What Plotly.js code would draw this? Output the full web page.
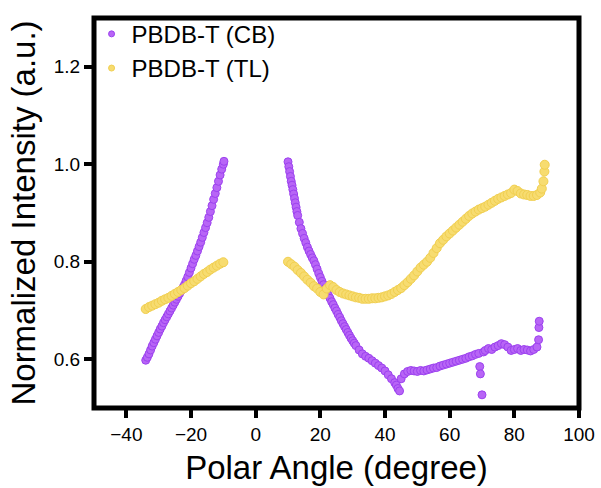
<!DOCTYPE html>
<html>
<head>
<meta charset="utf-8">
<script src="https://cdn.plot.ly/plotly-3.0.1.min.js"></script>
<style>html,body{margin:0;padding:0;background:#fff;}#chart{width:601px;height:488px;}</style>
</head>
<body>
<div id="chart"></div>
<script>
// PBDB-T (CB) — polar angle (degree) and normalized intensity (a.u.)
const cbAngle = [
  -34,-33.5,-33,-32.5,-32,-31.5,-31,-30.5,-30,-29.5,-29,-28.5,-28,-27.5,-27,-26.5,-26,-25.5,-25,-24.5,
  -24,-23.5,-23,-22.5,-22,-21.5,-21,-20.5,-20,-19.5,-19,-18.5,-18,-17.5,-17,-16.5,-16,-15.5,-15,-14.5,
  -14,-13.5,-13,-12.5,-12,-11.5,-11,-10.5,-10,-9.8,
  10,10.25,10.5,10.75,11,11.25,11.5,11.75,12,12.25,12.5,12.75,13,13.5,14,14.5,15,15.5,16,16.5,
  17,17.5,18,18.5,19,19.5,20,20.5,21,21.5,22,22.5,23,23.5,24,24.5,25,25.5,26,26.5,
  27,27.5,28,28.5,29,29.5,30,30.5,31,32,33,34,35,36,37,38,39,40,41,42,
  43,43.5,44,44.5,45,46,47,48,49,50,51,52,53,54,55,56,57,58,59,60,
  61,62,63,64,65,66,67,68,69,69.3,69.5,70,70.5,71,72,73,74,75,76,77,
  78,79,80,81,82,83,84,85,86,87,87.5,87.6,87.7
];
const cbIntensity = [
  0.598,0.604,0.611,0.619,0.627,0.634,0.641,0.648,0.655,0.662,0.668,0.675,0.681,0.687,0.693,0.699,0.705,0.711,0.717,0.723,
  0.729,0.735,0.741,0.747,0.753,0.761,0.769,0.778,0.787,0.796,0.805,0.813,0.822,0.831,0.840,0.850,0.860,0.870,0.880,0.891,
  0.903,0.915,0.928,0.940,0.952,0.965,0.978,0.990,1.000,1.006,
  1.005,0.995,0.985,0.975,0.965,0.957,0.948,0.939,0.930,0.921,0.912,0.903,0.895,0.881,0.868,0.858,0.848,0.839,0.830,0.822,
  0.815,0.808,0.802,0.794,0.785,0.776,0.768,0.760,0.753,0.745,0.738,0.731,0.725,0.718,0.712,0.705,0.699,0.692,0.686,0.679,
  0.673,0.667,0.661,0.655,0.649,0.643,0.638,0.633,0.628,0.619,0.611,0.606,0.602,0.597,0.592,0.587,0.582,0.576,0.568,0.560,
  0.552,0.547,0.540,0.535,0.560,0.570,0.575,0.577,0.576,0.575,0.577,0.576,0.578,0.580,0.582,0.583,0.586,0.588,0.590,0.592,
  0.594,0.596,0.598,0.600,0.602,0.605,0.607,0.610,0.612,0.585,0.570,0.527,0.615,0.618,0.622,0.620,0.625,0.628,0.632,0.630,
  0.625,0.618,0.620,0.622,0.618,0.620,0.619,0.617,0.620,0.625,0.640,0.665,0.678
];

// PBDB-T (TL)
const tlAngle = [
  -34,-33,-32,-31,-30,-29,-28,-27,-26,-25,-24,-23,-22,-21,-20,-19,-18,-17,-16,-15,
  -14,-13,-12,-11,-10,
  10,11,12,13,14,15,16,17,18,19,20,21,22,23,24,25,26,27,28,29,
  30,31,32,33,34,35,36,37,38,39,40,41,42,43,44,45,46,47,48,49,
  50,51,52,53,54,55,56,57,58,59,60,61,62,63,64,65,66,67,68,69,
  70,71,72,73,74,75,76,77,78,79,80,81,82,83,84,85,86,87,88,88.5,
  89,89.3,89.4
];
const tlIntensity = [
  0.703,0.707,0.710,0.713,0.716,0.720,0.723,0.726,0.730,0.734,0.738,0.742,0.746,0.751,0.756,0.760,0.765,0.770,0.775,0.779,
  0.784,0.788,0.792,0.796,0.799,
  0.800,0.795,0.790,0.783,0.777,0.770,0.763,0.757,0.750,0.745,0.738,0.733,0.745,0.752,0.748,0.742,0.738,0.735,0.733,0.731,
  0.729,0.727,0.726,0.724,0.724,0.724,0.725,0.725,0.726,0.727,0.729,0.731,0.734,0.738,0.742,0.746,0.752,0.758,0.765,0.772,
  0.780,0.788,0.794,0.800,0.808,0.818,0.828,0.838,0.845,0.852,0.858,0.864,0.870,0.876,0.882,0.888,0.894,0.899,0.903,0.907,
  0.910,0.913,0.917,0.921,0.925,0.929,0.932,0.935,0.938,0.941,0.948,0.945,0.940,0.938,0.937,0.935,0.935,0.937,0.942,0.950,
  0.965,0.985,0.999
];

const seriesNames = ["PBDB-T (CB)", "PBDB-T (TL)"];
const xTicks = [-40, -20, 0, 20, 40, 60, 80, 100];
const yTicks = [0.6, 0.8, 1.0, 1.2];

const FONT = "Liberation Sans, Arial, sans-serif";
const cbMarker = {color: "#b865f6", line: {color: "#9c42ef", width: 1}};
const tlMarker = {color: "#f7dc70", line: {color: "#f1cf50", width: 1}};

const traces = [
  {
    x: cbAngle, y: cbIntensity, name: seriesNames[0], type: "scatter", mode: "markers",
    showlegend: false,
    marker: Object.assign({size: 8}, cbMarker)
  },
  {
    x: tlAngle, y: tlIntensity, name: seriesNames[1], type: "scatter", mode: "markers",
    showlegend: false,
    marker: Object.assign({size: 9}, tlMarker)
  },
  // legend entries with the small legend symbols of the original
  {
    x: [null], y: [null], name: seriesNames[0], type: "scatter", mode: "markers",
    marker: Object.assign({size: 6}, cbMarker)
  },
  {
    x: [null], y: [null], name: seriesNames[1], type: "scatter", mode: "markers",
    marker: Object.assign({size: 6}, tlMarker)
  }
];

const axisCommon = {
  showgrid: false, zeroline: false, showline: false,
  ticks: "outside", ticklen: 9, tickwidth: 4, tickcolor: "#000",
  tickfont: {family: FONT, size: 19, color: "#000"}
};

const layout = {
  width: 601, height: 488,
  margin: {l: 94, r: 22, t: 18, b: 80},
  paper_bgcolor: "#fff", plot_bgcolor: "#fff",
  font: {family: FONT, color: "#000"},
  showlegend: true,
  legend: {
    x: -0.005, y: 1.016, xanchor: "left", yanchor: "top",
    bgcolor: "rgba(0,0,0,0)", borderwidth: 0, itemwidth: 30,
    traceorder: "normal", tracegroupgap: 0,
    font: {family: FONT, size: 24, color: "#000"}
  },
  xaxis: Object.assign({}, axisCommon, {
    range: [-50, 100], tickmode: "array", tickvals: xTicks,
    title: {text: "Polar Angle (degree)", font: {family: FONT, size: 33, color: "#000"}, standoff: 12}
  }),
  yaxis: Object.assign({}, axisCommon, {
    range: [0.5, 1.3], tickmode: "array", tickvals: yTicks, tickformat: ".1f",
    title: {text: "Normalized Intensity (a.u.)", font: {family: FONT, size: 33, color: "#000"}, standoff: 8}
  }),
  shapes: [{
    type: "rect", xref: "paper", yref: "paper", x0: 0, x1: 1, y0: 0, y1: 1,
    line: {color: "#000", width: 5}, layer: "above"
  }]
};

Plotly.newPlot("chart", traces, layout, {displayModeBar: false, staticPlot: true});
</script>
</body>
</html>
